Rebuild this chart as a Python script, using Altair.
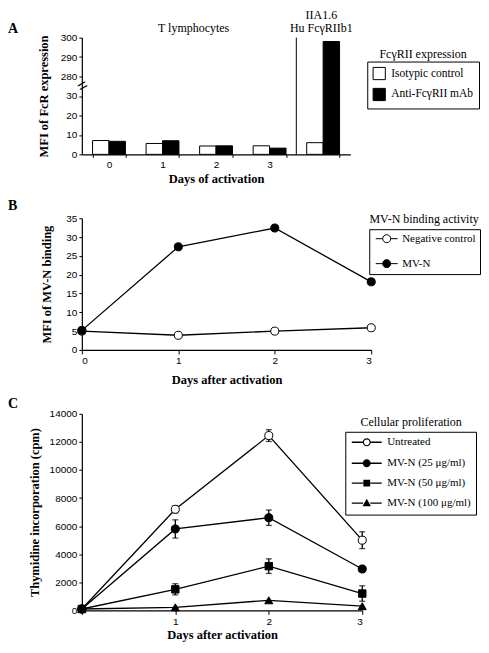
import altair as alt
import pandas as pd

# ---------------- Panel A data ----------------
groups_a = ["0", "1", "2", "3", "IIA1.6"]
series_a = ["Isotypic control", "Anti-FcγRII mAb"]
isotypic = [7.1, 5.6, 4.3, 4.4, 6.0]
anti_fc = [6.7, 7.0, 4.4, 3.2, 298.0]
y_ticks_a = [0, 10, 20, 30, 280, 290, 300]

# ---------------- Panel B data ----------------
days = [0, 1, 2, 3]
series_b = ["Negative control", "MV-N"]
neg_control = [5.0, 3.9, 5.0, 5.9]
mvn_binding = [5.2, 27.4, 32.4, 18.1]

# ---------------- Panel C data ----------------
series_c = ["Untreated", "MV-N (25 μg/ml)", "MV-N (50 μg/ml)", "MV-N (100 μg/ml)"]
untreated = [100, 7200, 12450, 5000]
untreated_err = [0, 250, 420, 600]
mvn25 = [100, 5800, 6600, 2950]
mvn25_err = [0, 650, 550, 0]
mvn50 = [100, 1500, 3150, 1200]
mvn50_err = [0, 400, 520, 550]
mvn100 = [100, 220, 720, 300]
mvn100_err = [0, 0, 0, 0]

SERIF = "Liberation Serif"
SANS = "Liberation Sans"


def note(text, x, y, size=12, bold=False, align="center"):
    return alt.Chart(pd.DataFrame({"t": [text]})).mark_text(
        font=SERIF, fontSize=size, fontWeight="bold" if bold else "normal",
        align=align, color="black"
    ).encode(x=alt.value(x), y=alt.value(y), text="t:N")


# ================= Panel A =================
W_A, H_A = 269, 117
df_a = pd.DataFrame({
    "group": groups_a * 2,
    "series": [series_a[0]] * len(groups_a) + [series_a[1]] * len(groups_a),
    "value": isotypic + anti_fc,
})
# broken axis: values above 30 are shifted down by 240
brk = "datum.value <= 30 ? datum.value : datum.value - 240"
tick_pos_a = [v if v <= 30 else v - 240 for v in y_ticks_a]

x_a = alt.X("group:N", sort=groups_a,
            scale=alt.Scale(paddingInner=0.386, paddingOuter=0.2),
            axis=alt.Axis(title="Days of activation", labelAngle=0,
                          labelExpr="datum.value == 'IIA1.6' ? '' : datum.label",
                          tickBand="extent", tickSize=3, labelPadding=2,
                          titlePadding=3))
axis_ya = alt.Axis(title="MFI of FcR expression", values=tick_pos_a,
                   labelExpr="datum.value <= 30 ? datum.label : format(datum.value + 240, 'd')",
                   tickSize=3, titlePadding=10, labelOverlap=False)
scale_ya = alt.Scale(domain=[0, 60], nice=False)

bars_a = alt.Chart(df_a).transform_calculate(pos=brk).mark_bar(
    stroke="black", strokeWidth=1
).encode(
    x=x_a,
    xOffset=alt.XOffset("series:N", sort=series_a),
    y=alt.Y("pos:Q", scale=scale_ya, axis=axis_ya),
    fill=alt.Fill("series:N", sort=series_a,
                  scale=alt.Scale(domain=series_a, range=["white", "black"]),
                  legend=alt.Legend(title=None, orient="none", legendX=286, legendY=24,
                                    strokeColor="black", padding=5, symbolType="square",
                                    symbolSize=150, symbolStrokeColor="black",
                                    symbolStrokeWidth=1, labelFont=SERIF, labelFontSize=11.5,
                                    rowPadding=3, labelOffset=5)),
)

sep_a = alt.Chart(pd.DataFrame({"group": ["IIA1.6"]})).mark_rule(
    color="black", strokeWidth=1, xOffset=-10.4
).encode(
    x=alt.X("group:N", sort=groups_a, bandPosition=0),
    y=alt.value(0), y2=alt.value(H_A),
)

brk_a = alt.Chart(pd.DataFrame({"pos": [35], "t": ["="]})).mark_text(
    fontSize=17, angle=330, color="black"
).encode(x=alt.value(1), y=alt.Y("pos:Q", scale=scale_ya, axis=axis_ya), text="t:N")

panel_a = alt.layer(
    bars_a, sep_a, brk_a,
    note("T lymphocytes", 112, -10),
    note("IIA1.6", 240, -23),
    note("Hu FcγRIIb1", 240, -10),
    note("FcγRII expression", 342, 16),
    note("A", -74, -9, size=14, bold=True, align="left"),
).properties(width=W_A, height=H_A)

# ================= Panel B =================
W_B, H_B = 290, 132
df_b = pd.DataFrame({
    "day": days * 2,
    "series": [series_b[0]] * 4 + [series_b[1]] * 4,
    "value": neg_control + mvn_binding,
})
x_b = alt.X("day:Q", scale=alt.Scale(domain=[0, 3], nice=False),
            axis=alt.Axis(title="Days after activation", values=days, format="d",
                          tickSize=4, titlePadding=8))
y_b = alt.Y("value:Q", scale=alt.Scale(domain=[0, 35], nice=False),
            axis=alt.Axis(title="MFI of MV-N binding", values=list(range(0, 36, 5)),
                          tickSize=3, titlePadding=12, labelOverlap=False))

circ_b = "M-2.75,0H-1M1,0H2.75M1,0A1,1,0,1,1,-1,0A1,1,0,1,1,1,0Z"

lines_b = alt.Chart(df_b).mark_line(color="black", strokeWidth=1.3).encode(
    x=x_b, y=y_b, detail="series:N")
pts_b = alt.Chart(df_b).mark_point(
    shape="circle", filled=True, size=65, stroke="black", strokeWidth=1, opacity=1
).encode(
    x=x_b, y=y_b,
    fill=alt.Fill("series:N", sort=series_b,
                  scale=alt.Scale(domain=series_b, range=["white", "black"]),
                  legend=alt.Legend(title=None, orient="none", legendX=288, legendY=11,
                                    strokeColor="black", padding=4, symbolType=circ_b,
                                    symbolSize=64, symbolStrokeColor="black",
                                    symbolStrokeWidth=1, symbolOffset=8, labelOffset=10,
                                    labelFont=SERIF, labelFontSize=11, rowPadding=12)),
)

panel_b = alt.layer(
    lines_b, pts_b,
    note("MV-N binding activity", 343, 1),
    note("B", -74, -12, size=14, bold=True, align="left"),
).properties(width=W_B, height=H_B)

# ================= Panel C =================
W_C, H_C = 281, 197
vals_c = [untreated, mvn25, mvn50, mvn100]
errs_c = [untreated_err, mvn25_err, mvn50_err, mvn100_err]
rows = []
for s, vs, es in zip(series_c, vals_c, errs_c):
    for d, v, e in zip(days, vs, es):
        rows.append({"day": d, "series": s, "value": v, "err": e,
                     "lo": v - e, "hi": v + e})
df_c = pd.DataFrame(rows)

x_c = alt.X("day:Q", scale=alt.Scale(domain=[0, 3], nice=False),
            axis=alt.Axis(title="Days after activation", values=days,
                          labelExpr="datum.value == 0 ? '' : datum.label",
                          tickSize=4, titlePadding=2))
axis_yc = alt.Axis(title="Thymidine incorporation (cpm)",
                   values=list(range(0, 14001, 2000)), format="d",
                   tickSize=3, titlePadding=8, labelOverlap=False)
scale_yc = alt.Scale(domain=[0, 14000], nice=False)
y_c = alt.Y("value:Q", scale=scale_yc, axis=axis_yc)

lines_c = alt.Chart(df_c).mark_line(color="black", strokeWidth=1.3).encode(
    x=x_c, y=y_c, detail="series:N")
err_c = alt.Chart(df_c).transform_filter("datum.err > 0").mark_rule(
    color="black", strokeWidth=1.3).encode(
    x=x_c, y=alt.Y("lo:Q", scale=scale_yc, axis=axis_yc), y2="hi:Q")
cap_lo = alt.Chart(df_c).transform_filter("datum.err > 0").mark_tick(
    color="black", orient="horizontal", size=6, thickness=1.3).encode(
    x=x_c, y=alt.Y("lo:Q", scale=scale_yc, axis=axis_yc))
cap_hi = alt.Chart(df_c).transform_filter("datum.err > 0").mark_tick(
    color="black", orient="horizontal", size=6, thickness=1.3).encode(
    x=x_c, y=alt.Y("hi:Q", scale=scale_yc, axis=axis_yc))

marker_styles = [("circle", "white", 65), ("circle", "black", 65),
                 ("square", "black", 55), ("triangle-up", "black", 65)]
pts_c = []
for s, (shp, fll, sz) in zip(series_c, marker_styles):
    pts_c.append(
        alt.Chart(df_c).transform_filter(alt.datum.series == s).mark_point(
            shape=shp, filled=True, fill=fll, size=sz, stroke="black",
            strokeWidth=1, opacity=1
        ).encode(x=x_c, y=y_c)
    )

# legend symbols: a short line with the marker, drawn as filled paths
seg = "M-3.75,-0.17H-0.9V0.17H-3.75Z M0.9,-0.17H3.75V0.17H0.9Z "
ring_path = seg + ("M1,0A1,1,0,1,1,-1,0A1,1,0,1,1,1,0Z "
                   "M0.72,0A0.72,0.72,0,1,0,-0.72,0A0.72,0.72,0,1,0,0.72,0Z")
dot_path = seg + "M1,0A1,1,0,1,1,-1,0A1,1,0,1,1,1,0Z"
sq_path = seg + "M-0.85,-0.85H0.85V0.85H-0.85Z"
tri_path = seg + "M0,-1.1L1.05,0.8H-1.05Z"

leg_props = dict(title=None, orient="none", legendX=264, legendY=18,
                 strokeColor="black", padding=5, symbolSize=64,
                 symbolOpacity=1, symbolOffset=11, labelOffset=15, labelFont=SERIF,
                 labelFontSize=11, rowPadding=6)
leg_c = alt.Chart(df_c).transform_filter("false").mark_point(
    filled=True, opacity=1
).encode(
    x=x_c, y=y_c,
    fill=alt.Fill("series:N", sort=series_c,
                  scale=alt.Scale(domain=series_c, range=["black"] * 4),
                  legend=alt.Legend(**leg_props)),
    shape=alt.Shape("series:N", sort=series_c,
                    scale=alt.Scale(domain=series_c,
                                    range=[ring_path, dot_path, sq_path, tri_path]),
                    legend=alt.Legend(**leg_props)),
)

panel_c = alt.layer(
    lines_c, err_c, cap_lo, cap_hi, *pts_c, leg_c,
    note("Cellular proliferation", 330, 8),
    note("C", -74, -10, size=14, bold=True, align="left"),
).properties(width=W_C, height=H_C)

chart = alt.vconcat(panel_a, panel_b, panel_c, spacing=64, bounds="flush").resolve_scale(
    fill="independent", shape="independent"
).properties(
    padding={"left": 0, "top": 0, "right": 0, "bottom": 0}
).configure_view(stroke=None).configure_axis(
    grid=False, domainColor="black", domainWidth=1.2, tickColor="black", tickWidth=1,
    labelFont=SANS, labelFontSize=10, labelColor="black",
    titleFont=SERIF, titleFontSize=12.5, titleFontWeight="bold", titleColor="black",
).configure_legend(labelColor="black")

chart.save("out.html", embed_options={"renderer": "svg", "actions": False})
